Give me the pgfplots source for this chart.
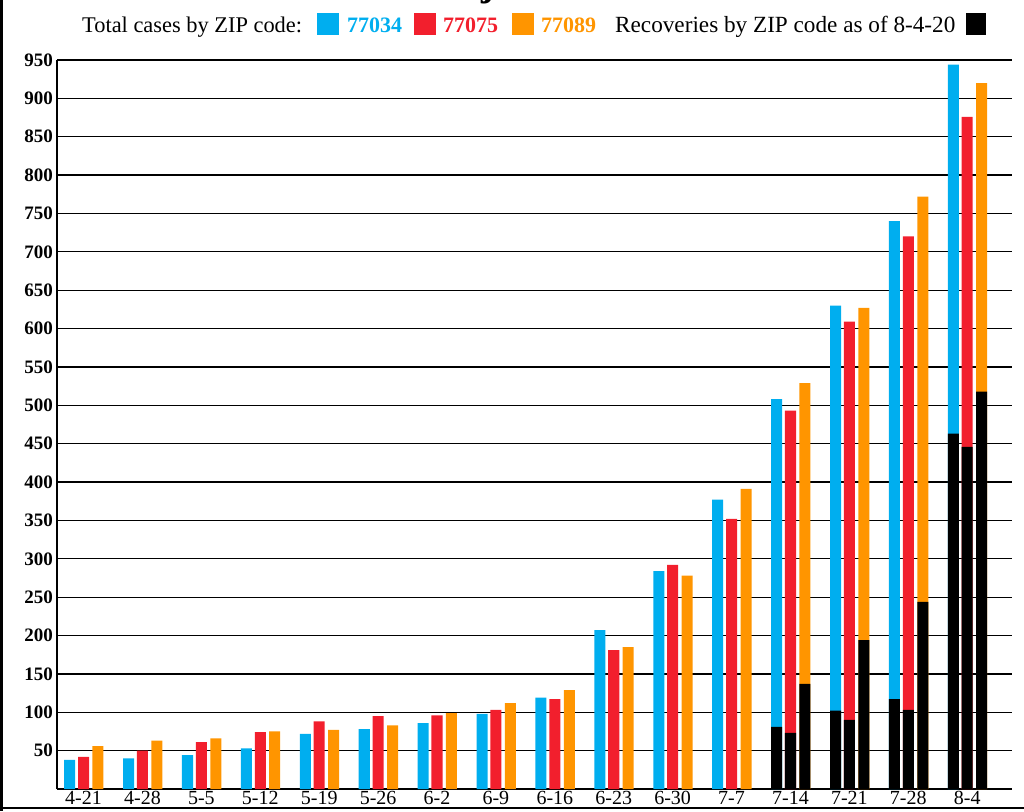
\documentclass[border=0pt]{standalone}
\usepackage{pgfplots}
\pgfplotsset{compat=1.18}
\usepackage{fontspec}
\setmainfont{Liberation Serif}
\definecolor{cblue}{HTML}{00AEEF}
\definecolor{cred}{HTML}{F21F2D}
\definecolor{corange}{HTML}{FF9500}
\begin{document}
\begin{tikzpicture}[x=1pt,y=1pt]
\path[use as bounding box] (0,0) rectangle (1024,811);
\begin{axis}[
  at={(57pt,22pt)}, anchor=south west,
  scale only axis, width=955pt, height=729pt,
  xmin=-0.45, xmax=15.76, ymin=0, ymax=950,
  axis x line*=bottom, axis y line*=left,
  axis line style={black, line width=1.3pt},
  ytick={50,100,...,950},
  xtick={0,...,15},
  xticklabels={4-21,4-28,5-5,5-12,5-19,5-26,6-2,6-9,6-16,6-23,6-30,7-7,7-14,7-21,7-28,8-4},
  major tick length=0pt,
  ymajorgrids, major grid style={black, line width=1.3pt},
  /pgf/number format/assume math mode=true,
  yticklabel style={font=\bfseries\fontsize{19}{19}\selectfont, inner sep=0pt, xshift=-4pt},
  xticklabel style={font=\fontsize{20}{20}\selectfont, inner sep=0pt, yshift=-2pt},
  clip=false,
]
\addplot[ybar, fill=cblue, draw=none, bar width=0.187, bar shift=-0.235] coordinates {
(0,38)(1,40)(2,44)(3,53)(4,72)(5,78)(6,86)(7,98)(8,119)(9,207)(10,284)(11,377)(12,508)(13,630)(14,740)(15,944)};
\addplot[ybar, fill=cred, draw=none, bar width=0.187, bar shift=0] coordinates {
(0,42)(1,50)(2,61)(3,74)(4,88)(5,95)(6,96)(7,103)(8,117)(9,181)(10,292)(11,352)(12,493)(13,609)(14,720)(15,876)};
\addplot[ybar, fill=corange, draw=none, bar width=0.187, bar shift=0.245] coordinates {
(0,56)(1,63)(2,66)(3,75)(4,77)(5,83)(6,99)(7,112)(8,129)(9,185)(10,278)(11,391)(12,529)(13,627)(14,772)(15,920)};
% recoveries
\addplot[ybar, fill=black, draw=none, bar width=0.187, bar shift=-0.235] coordinates {
(12,81)(13,102)(14,117)(15,463)};
\addplot[ybar, fill=black, draw=none, bar width=0.187, bar shift=0] coordinates {
(12,73)(13,90)(14,103)(15,446)};
\addplot[ybar, fill=black, draw=none, bar width=0.187, bar shift=0.245] coordinates {
(12,137)(13,194)(14,244)(15,518)};
\end{axis}
% legend
\node[anchor=base west, inner sep=0pt, font=\fontsize{22.4}{22.4}\selectfont] at (82,778) {Total cases by ZIP code:};
\node[anchor=base west, inner sep=0pt] at (317,776) {\textcolor{cblue}{\rule{22pt}{22pt}}};
\node[anchor=base west, inner sep=0pt, font=\bfseries\fontsize{22}{22}\selectfont, text=cblue] at (347,778) {77034};
\node[anchor=base west, inner sep=0pt] at (414,776) {\textcolor{cred}{\rule{22pt}{22pt}}};
\node[anchor=base west, inner sep=0pt, font=\bfseries\fontsize{22}{22}\selectfont, text=cred] at (443,778) {77075};
\node[anchor=base west, inner sep=0pt] at (512,776) {\textcolor{corange}{\rule{22pt}{22pt}}};
\node[anchor=base west, inner sep=0pt, font=\bfseries\fontsize{22}{22}\selectfont, text=corange] at (541,778) {77089};
\node[anchor=base west, inner sep=0pt, font=\fontsize{23.2}{23.2}\selectfont] at (615,778) {Recoveries by ZIP code as of 8-4-20};
\node[anchor=base west, inner sep=0pt] at (966,776) {\rule{20pt}{22pt}};
% cut-off title glyph (as in the reference)
\node[anchor=base west, inner sep=0pt, font=\bfseries\fontsize{40}{40}\selectfont] at (481,815) {j};
% frame
\fill[black] (0,0) rectangle (3,811);
\fill[black] (0,2) rectangle (1024,4.5);
\end{tikzpicture}
\end{document}
